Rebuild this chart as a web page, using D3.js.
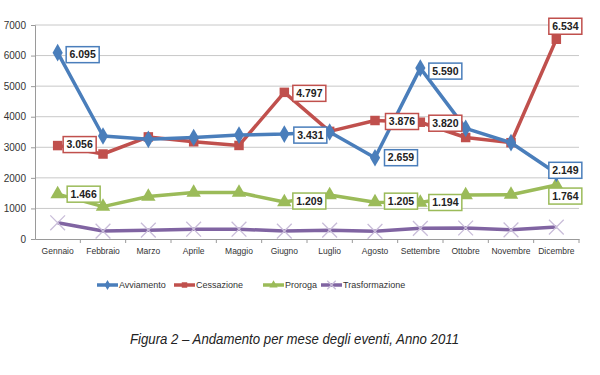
<!DOCTYPE html>
<html>
<head>
<meta charset="utf-8">
<script src="https://cdn.jsdelivr.net/npm/d3@7"></script>
<style>
  body { margin: 0; background: #fff; }
  svg { display: block; }
</style>
</head>
<body>
<div id="graph"></div>
<script>
// data
const months = ["Gennaio", "Febbraio", "Marzo", "Aprile", "Maggio", "Giugno",
                "Luglio", "Agosto", "Settembre", "Ottobre", "Novembre", "Dicembre"];
const avviamento     = [6095, 3370, 3260, 3320, 3400, 3431, 3500, 2659, 5590, 3620, 3150, 2149];
const cessazione     = [3056, 2780, 3340, 3180, 3060, 4797, 3520, 3876, 3820, 3320, 3150, 6534];
const proroga        = [1466, 1060, 1390, 1520, 1520, 1209, 1440, 1205, 1194, 1440, 1450, 1764];
const trasformazione = [530, 260, 290, 320, 320, 260, 290, 250, 350, 360, 300, 390];
const yTicks = [0, 1000, 2000, 3000, 4000, 5000, 6000, 7000];
const caption = "Figura 2 \u2013 Andamento per mese degli eventi, Anno 2011";

const series = [
  { name: "Avviamento", values: avviamento, color: "#4a7ebb", symbol: d3.symbolDiamond },
  { name: "Cessazione", values: cessazione, color: "#c0504d", symbol: d3.symbolSquare },
  { name: "Proroga", values: proroga, color: "#9bbb59", symbol: d3.symbolTriangle },
  { name: "Trasformazione", values: trasformazione, color: "#8064a2", symbol: "x" }
];

// boxed value labels: series index, month index, side offset
const labels = [
  [0, 0, 25, 2], [1, 0, 22, -1], [2, 0, 26, 0],
  [1, 5, 25, 1], [0, 5, 26, 1], [2, 5, 25, -1],
  [0, 7, 26, 0], [1, 7, 27, 1], [2, 7, 26, -1],
  [0, 8, 25, 3], [1, 8, 25, 1], [2, 8, 25, 0],
  [1, 11, 9, -13], [0, 11, 9, -3], [2, 11, 9, 11]
];

const W = 600, H = 375;
const margin = { top: 25, left: 35, right: 21, bottom: 136 };

const svg = d3.select("#graph").append("svg")
    .attr("width", W)
    .attr("height", H);

const x = d3.scaleBand()
    .domain(months)
    .range([margin.left, W - margin.right]);

const y = d3.scaleLinear()
    .domain([0, 7000])
    .range([H - margin.bottom, margin.top]);

const font = "'Liberation Sans', Arial, sans-serif";

// grid
svg.append("g")
  .selectAll("line")
  .data(yTicks.slice(1))
  .join("line")
    .attr("x1", margin.left)
    .attr("x2", W - margin.right)
    .attr("y1", d => y(d))
    .attr("y2", d => y(d))
    .attr("stroke", "#c8c8c8")
    .attr("stroke-width", 1);

// y axis
const yAxis = svg.append("g")
    .attr("transform", `translate(${margin.left},0)`)
    .call(d3.axisLeft(y).tickValues(yTicks).tickSize(4).tickPadding(5).tickFormat(d3.format("d")));
yAxis.select(".domain").attr("stroke", "#9a9a9a");
yAxis.selectAll(".tick line").attr("stroke", "#9a9a9a");
yAxis.selectAll("text").attr("font-family", font).attr("font-size", 10).attr("fill", "#333");

// x axis
const xAxis = svg.append("g")
    .attr("transform", `translate(0,${y(0)})`)
    .call(d3.axisBottom(x).tickSize(0).tickPadding(9));
xAxis.select(".domain").attr("stroke", "#9a9a9a");
xAxis.selectAll("text").attr("font-family", font).attr("font-size", 8.5).attr("fill", "#333");
xAxis.append("g")
  .selectAll("line")
  .data(months)
  .join("line")
    .attr("x1", d => x(d) + x.bandwidth())
    .attr("x2", d => x(d) + x.bandwidth())
    .attr("y1", 0)
    .attr("y2", 4)
    .attr("stroke", "#9a9a9a");

const cx = i => x(months[i]) + x.bandwidth() / 2;

const line = d3.line()
    .x((d, i) => cx(i))
    .y(d => y(d));

function marker(sel, s, size) {
  if (s.symbol === "x") {
    sel.append("path")
      .attr("d", d3.symbol(d3.symbolTimes, size * 1.6)())
      .attr("fill", "none")
      .attr("stroke", "#c9bdd9")
      .attr("stroke-width", 1.3);
  } else {
    sel.append("path")
      .attr("d", d3.symbol(s.symbol, size)())
      .attr("fill", s.color);
  }
}

// lines, drawn bottom series first
series.slice().reverse().forEach(s => {
  const g = svg.append("g");
  g.append("path")
    .datum(s.values)
    .attr("d", line)
    .attr("fill", "none")
    .attr("stroke", s.color)
    .attr("stroke-width", 3.5)
    .attr("stroke-linejoin", "round");
  s.values.forEach((v, i) => {
    const m = g.append("g").attr("transform", `translate(${cx(i)},${y(v)})`);
    marker(m, s, 90);
  });
});

// boxed labels
const fmt = v => d3.format(",")(v).replace(/,/g, ".");
labels.forEach(([si, mi, dx, dy]) => {
  const s = series[si];
  const v = s.values[mi];
  const g = svg.append("g")
      .attr("transform", `translate(${cx(mi) + dx},${y(v) + dy})`);
  g.append("rect")
    .attr("x", -16.5)
    .attr("y", -8)
    .attr("width", 33)
    .attr("height", 16)
    .attr("fill", "#fff")
    .attr("stroke", s.color)
    .attr("stroke-width", 1.5);
  g.append("text")
    .attr("text-anchor", "middle")
    .attr("dy", "0.36em")
    .attr("font-family", font)
    .attr("font-weight", "bold")
    .attr("font-size", 10.5)
    .attr("fill", "#222")
    .text(fmt(v));
});

// legend
const legendX = [97, 174, 263, 321];
const legend = svg.append("g").attr("transform", "translate(0,285)");
series.forEach((s, i) => {
  const g = legend.append("g").attr("transform", `translate(${legendX[i]},0)`);
  g.append("line")
    .attr("x1", 0).attr("x2", 21)
    .attr("stroke", s.color)
    .attr("stroke-width", 3.5);
  const m = g.append("g").attr("transform", "translate(10.5,0)");
  marker(m, s, 30);
  g.append("text")
    .attr("x", 22)
    .attr("dy", "0.35em")
    .attr("font-family", font)
    .attr("font-size", 9)
    .attr("fill", "#333")
    .text(s.name);
});

// caption
svg.append("text")
    .attr("x", 130)
    .attr("y", 344)
    .attr("font-family", "'Liberation Sans Narrow', 'Liberation Sans', Arial, sans-serif")
    .attr("font-style", "italic")
    .attr("font-size", 14)
    .attr("fill", "#222")
    .attr("textLength", 329)
    .attr("lengthAdjust", "spacingAndGlyphs")
    .text(caption);
</script>
</body>
</html>
